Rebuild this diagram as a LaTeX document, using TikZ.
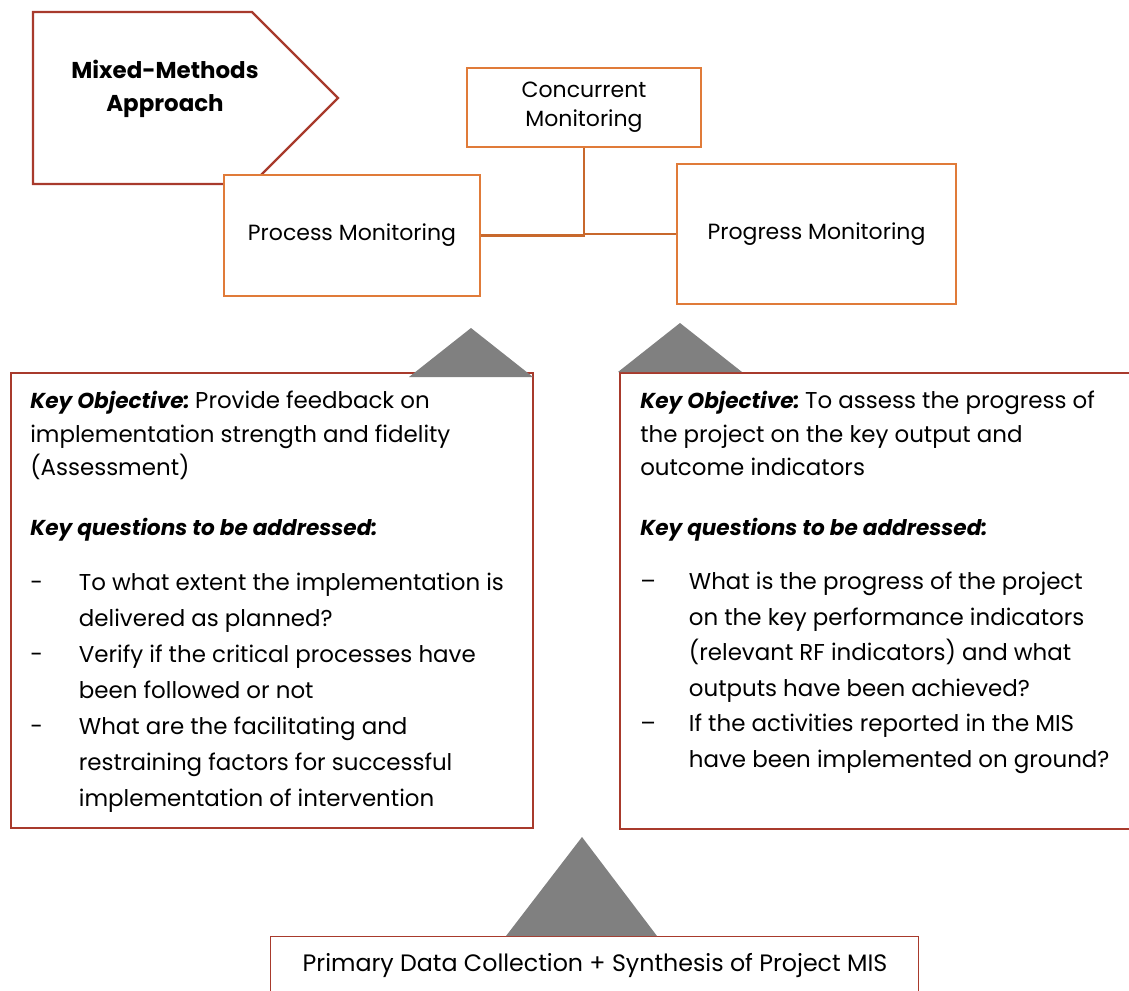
\documentclass[tikz,border=0pt]{standalone}
\usepackage{fontspec}
\setmainfont{Poppins}
\usetikzlibrary{positioning}

\definecolor{boxorange}{HTML}{E07B39}
\definecolor{linkorange}{HTML}{C8682C}
\definecolor{framered}{HTML}{A83A2C}
\definecolor{wedgegray}{HTML}{808080}

\newcommand{\keyhead}[1]{{\fontsize{16.2}{25}\selectfont\textbf{\textit{#1}}}\kern-2pt\relax}
\newcommand{\dashitem}[1]{\makebox[36.5pt][l]{#1}}
\newcommand{\bodyfont}{\fontsize{17.2}{25.1}\selectfont}
\newcommand{\listfont}{\fontsize{17.2}{27}\selectfont}

\tikzset{
  mon/.style={draw=boxorange, line width=2.1pt, fill=white, inner sep=0pt,
    align=center, font=\fontsize{16.5}{21.75}\selectfont},
  link/.style={draw=linkorange, line width=1.9pt},
  panel/.style={draw=framered, line width=1.8pt, fill=white, anchor=north west, inner sep=0pt},
  wedge/.style={fill=wedgegray},
  body/.style={anchor=north west, align=left, inner sep=0pt, font=\bodyfont},
}

\begin{document}
\begin{tikzpicture}[x=0.75pt, y=-0.75pt]
  \useasboundingbox (0,0) rectangle (1129,990);

  % approach tag
  \draw[framered, line width=1.8pt] (33,12) -- (252,12) -- (338,98) -- (252,184) -- (33,184) -- cycle;
  \node[align=center, font=\fontsize{17.2}{24.75}\selectfont\bfseries] (mixed) at (165,89) {Mixed-Methods\\Approach};

  % monitoring boxes
  \node[mon, minimum width=192pt, minimum height=90.75pt] (proc) at (352,235.5) {Process Monitoring};
  \node[mon, minimum width=175.5pt, minimum height=59.25pt] (conc) at (584,107.5) {Concurrent\\Monitoring};
  \node[mon, minimum width=209.25pt, minimum height=105pt] (prog) at (816.5,234) {Progress Monitoring};
  \draw[link] (conc.south) |- (proc.east);
  \draw[link] (conc.south) |- (prog.west);

  % panels
  \node[panel, minimum width=391.5pt, minimum height=341.25pt] (procpanel) at (10,372) {};
  \node[panel, minimum width=390.75pt, minimum height=342pt] (progpanel) at (619,372) {};
  \node[panel, line width=1.1pt, minimum width=486pt, minimum height=55.5pt] (data) at (270,936) {};
  \node[font=\fontsize{17.8}{20}\selectfont] (datatext) at (595,966) {Primary Data Collection + Synthesis of Project MIS};

  % wedges
  \fill[wedge] (409,377) -- (471,328) -- (533,377) -- cycle;
  \fill[wedge] (618,372) -- (680,323) -- (742,372) -- cycle;
  \fill[wedge] (506,936) -- (582,837) -- (657,936) -- cycle;

  % process panel text
  \node[body] (procobj) at (30,391) {\keyhead{Key Objective:} Provide feedback on\\implementation strength and fidelity\\(Assessment)};
  \node[body] (procq) at (30,518) {\keyhead{Key questions to be addressed:}};
  \node[body, font=\listfont] (proclist) at (30,573) {%
    \dashitem{-}To what extent the implementation is\\
    \dashitem{}delivered as planned?\\
    \dashitem{-}Verify if the critical processes have\\
    \dashitem{}been followed or not\\
    \dashitem{-}What are the facilitating and\\
    \dashitem{}restraining factors for successful\\
    \dashitem{}implementation of intervention};

  % progress panel text
  \node[body] (progobj) at (640,391) {\keyhead{Key Objective:} To assess the progress of\\the project on the key output and\\outcome indicators};
  \node[body] (progq) at (640,518) {\keyhead{Key questions to be addressed:}};
  \node[body, font=\fontsize{17.2}{26.6}\selectfont] (proglist) at (640,572) {%
    \dashitem{--}What is the progress of the project\\
    \dashitem{}on the key performance indicators\\
    \dashitem{}(relevant RF indicators) and what\\
    \dashitem{}outputs have been achieved?\\
    \dashitem{--}If the activities reported in the MIS\\
    \dashitem{}have been implemented on ground?};
\end{tikzpicture}
\end{document}
